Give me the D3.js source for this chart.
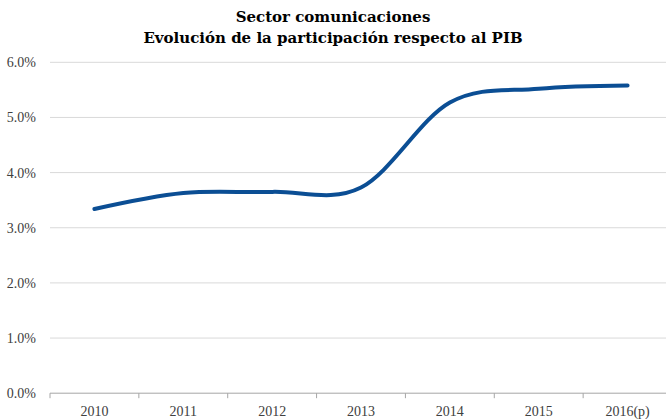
<!DOCTYPE html>
<head>
    <meta charset="utf-8">
    <script src="https://d3js.org/d3.v7.min.js"></script>
    <style>
        body { margin:0; background:#fff; }
        text { font-family: "Liberation Serif", serif; }
    </style>
</head>
<body>
    <svg id="svgelem" width="666" height="419"></svg>

    <script>
        // chart data
        var years = ["2010", "2011", "2012", "2013", "2014", "2015", "2016(p)"];
        var share = [3.34, 3.63, 3.65, 3.73, 5.27, 5.52, 5.58];
        var yTicks = [0, 1, 2, 3, 4, 5, 6];
        var titleLines = ["Sector comunicaciones", "Evolución de la participación respecto al PIB"];

        var width = 666, height = 419;
        var mLeft = 50, mRight = 672, mTop = 62.3, mBottom = 393.2;
        var svg = d3.select("#svgelem");

        var xRange = d3.scaleBand().domain(years).range([mLeft, mRight]);
        var yRange = d3.scaleLinear().domain([0, 6]).range([mBottom, mTop]);

        // gridlines
        svg.append("g").selectAll("line")
            .data(yTicks.filter(function(d) { return d > 0; }))
            .enter().append("line")
            .attr("x1", mLeft).attr("x2", width)
            .attr("y1", function(d) { return yRange(d); })
            .attr("y2", function(d) { return yRange(d); })
            .attr("stroke", "#d9d9d9").attr("stroke-width", 1);

        // y axis labels
        var yAxis = d3.axisLeft(yRange).tickValues(yTicks).tickSize(0).tickPadding(14)
            .tickFormat(function(d) { return d.toFixed(1) + "%"; });
        var gy = svg.append("g").attr("transform", "translate(" + mLeft + ",0)").call(yAxis);
        gy.select(".domain").remove();
        gy.selectAll("text").attr("font-size", "14px").attr("fill", "#404040")
            .style("font-family", '"Liberation Serif", serif');

        // x axis
        var gx = svg.append("g").attr("transform", "translate(0," + mBottom + ")");
        gx.append("line").attr("x1", mLeft).attr("x2", width).attr("y1", 0).attr("y2", 0)
            .attr("stroke", "#a6a6a6").attr("stroke-width", 1);
        gx.selectAll(".tk").data(years).enter().append("line")
            .attr("class", "tk")
            .attr("x1", function(d) { return xRange(d); })
            .attr("x2", function(d) { return xRange(d); })
            .attr("y1", 0).attr("y2", 5)
            .attr("stroke", "#a6a6a6");
        gx.selectAll(".lbl").data(years).enter().append("text")
            .attr("class", "lbl")
            .attr("x", function(d) { return xRange(d) + xRange.bandwidth() / 2; })
            .attr("y", 23)
            .attr("text-anchor", "middle")
            .attr("font-size", "14px").attr("fill", "#404040")
            .text(function(d) { return d; });

        // smoothed line
        var line = d3.line()
            .x(function(d, i) { return xRange(years[i]) + xRange.bandwidth() / 2; })
            .y(function(d) { return yRange(d); })
            .curve(d3.curveCatmullRom.alpha(0));
        svg.append("path").datum(share)
            .attr("d", line)
            .attr("fill", "none")
            .attr("stroke", "#0B4E94")
            .attr("stroke-width", 4)
            .attr("stroke-linecap", "round");

        // title
        svg.append("g").selectAll("text").data(titleLines).enter().append("text")
            .attr("x", 333).attr("y", function(d, i) { return 22 + i * 21; })
            .attr("text-anchor", "middle")
            .style("font-family", '"DejaVu Serif", serif')
            .attr("font-size", "15px").attr("font-weight", "bold").attr("fill", "#000")
            .text(function(d) { return d; });
    </script>
</body>
